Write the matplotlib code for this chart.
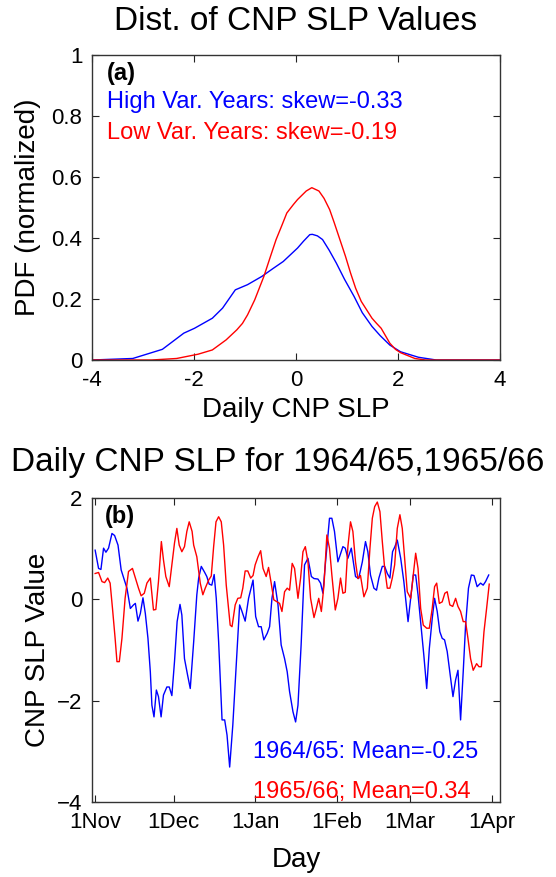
import numpy as np
import matplotlib
matplotlib.use("Agg")
import matplotlib.pyplot as plt

plt.rcParams['font.family'] = ['Liberation Sans', 'DejaVu Sans']

# PDF curves (panel a)
hi_x = [-4.0, -3.2, -2.62, -2.2, -1.99, -1.64, -1.44, -1.19, -0.95, -0.67, -0.45,
        -0.25, 0.03, 0.15, 0.27, 0.32, 0.42, 0.52, 0.65, 0.79, 0.95, 1.14, 1.3,
        1.49, 1.65, 1.84, 2.05, 2.4, 2.75, 4.0]
hi_y = [0.0, 0.005, 0.035, 0.088, 0.104, 0.137, 0.17, 0.23, 0.247, 0.274, 0.30,
        0.323, 0.367, 0.39, 0.411, 0.412, 0.407, 0.395, 0.36, 0.318, 0.265, 0.208,
        0.155, 0.11, 0.08, 0.049, 0.027, 0.009, 0.0, 0.0]
lo_x = [-4.0, -2.83, -2.34, -1.92, -1.64, -1.37, -1.16, -1.05, -0.95, -0.81, -0.63,
        -0.5, -0.39, -0.28, -0.18, -0.05, 0.03, 0.2, 0.31, 0.45, 0.55, 0.66, 0.75,
        0.86, 0.97, 1.07, 1.17, 1.28, 1.49, 1.58, 1.67, 1.84, 1.95, 2.05, 2.33,
        2.54, 4.0]
lo_y = [0.0, 0.0, 0.005, 0.019, 0.033, 0.066, 0.099, 0.12, 0.148, 0.197, 0.274,
        0.34, 0.395, 0.44, 0.482, 0.51, 0.526, 0.554, 0.565, 0.554, 0.53, 0.493,
        0.45, 0.395, 0.34, 0.285, 0.235, 0.192, 0.137, 0.12, 0.104, 0.055, 0.035,
        0.024, 0.005, 0.0, 0.0]

# daily series (panel b): day number (1 = 1 Nov) and value
b_day = [1.1, 2.4, 3.3, 4.3, 5.2, 6.2, 7.5, 8.5, 9.8, 11.0, 12.2, 13.2, 14.5, 15.7,
         16.4, 17.4, 18.3, 19.3, 20.2, 21.2, 22.1, 22.7, 23.5, 24.4, 25.2, 26.2,
         27.1, 28.4, 29.3, 30.3, 31.3, 32.3, 33.4, 34.1, 35.1, 36.3, 37.3, 38.6,
         39.8, 40.5, 41.5, 42.8, 43.6, 44.5, 45.5, 46.4, 47.2, 48.1, 49.4, 50.4,
         51.3, 52.3, 53.5, 54.8, 56.1, 57.0, 58.2, 59.5, 61.2, 62.2, 63.3, 64.3,
         65.3, 66.6, 67.5, 68.4, 69.4, 70.7, 71.9, 73.2, 74.2, 75.1, 76.4, 77.4,
         78.3, 79.5, 80.8, 82.1, 83.4, 84.4, 85.9, 86.9, 87.8, 88.7, 89.7, 90.3,
         91.2, 92.2, 93.5, 95.4, 96.3, 97.3, 98.6, 100.2, 101.4, 102.8, 104.0,
         104.9, 105.9, 107.2, 108.2, 109.1, 110.4, 111.3, 112.3, 113.3, 114.3,
         115.2, 116.1, 117.4, 118.6, 120.2, 121.2, 122.2, 123.1, 124.0, 125.2,
         126.2, 127.3, 128.3, 129.4, 130.3, 131.3, 132.3, 133.2, 134.1, 135.1,
         136.1, 137.3, 138.3, 139.2, 140.2, 141.2, 142.1, 143.2, 144.3, 145.3,
         146.5, 147.8, 148.8, 149.7, 150.9]
b_val = [0.97, 0.61, 0.59, 1.01, 0.93, 1.01, 1.30, 1.26, 1.07, 0.58, 0.38, 0.22,
         -0.18, -0.11, -0.08, -0.43, -0.28, 0.03, -0.28, -0.77, -1.43, -2.09, -2.32,
         -1.79, -1.92, -2.32, -1.89, -1.73, -1.73, -1.90, -1.23, -0.44, -0.10, -0.31,
         -1.17, -1.50, -1.76, -0.84, 0.09, 0.42, 0.65, 0.53, 0.45, 0.30, 0.28, 0.49,
         0.02, -0.84, -2.38, -2.38, -2.68, -3.31, -2.48, -1.30, -0.11, -0.24, -0.43,
         0.02, 0.38, -0.34, -0.54, -0.54, -0.80, -0.67, -0.54, 0.02, 0.35, -0.11,
         -0.90, -1.17, -1.43, -1.82, -2.22, -2.42, -2.09, -0.90, 0.68, 0.81, 0.45,
         0.41, 0.40, 0.32, 0.12, 0.68, 1.27, 1.60, 1.60, 1.34, 0.74, 1.04, 1.01,
         0.81, 1.01, 0.45, 0.41, 0.74, 1.14, 0.94, 0.48, 0.22, 0.18, 0.42, 0.65,
         0.65, 0.51, 0.42, 0.94, 1.04, 1.17, 0.81, 0.35, -0.44, 0.02, 0.48, 0.48,
         0.09, -0.57, -1.10, -1.76, -0.97, -0.38, 0.02, -0.24, -0.64, -0.77, -0.80,
         -1.03, -1.43, -1.92, -1.59, -1.40, -2.38, -1.43, -0.51, 0.22, 0.48, 0.47,
         0.25, 0.32, 0.28, 0.35, 0.48]

r_day = [1.1, 2.4, 3.7, 4.7, 5.9, 6.8, 7.7, 8.7, 9.4, 10.3, 11.3, 12.5, 13.8, 15.3,
         16.4, 17.6, 18.6, 19.8, 20.8, 22.1, 23.3, 24.2, 25.2, 26.3, 27.1, 28.0,
         29.3, 30.3, 31.3, 32.2, 33.1, 34.1, 35.1, 36.0, 36.9, 38.0, 38.6, 39.8,
         41.1, 42.1, 43.0, 44.3, 45.3, 46.2, 47.1, 48.1, 49.1, 50.0, 51.0, 52.5,
         53.2, 54.4, 55.4, 56.5, 57.3, 58.2, 59.2, 60.3, 61.2, 62.0, 63.1, 64.1,
         65.0, 66.2, 67.1, 68.1, 69.1, 70.4, 71.3, 72.2, 73.2, 74.2, 75.1, 76.1,
         77.0, 78.3, 79.3, 80.2, 81.1, 82.1, 83.1, 84.4, 85.3, 86.2, 87.2, 88.2,
         89.3, 90.3, 91.2, 92.5, 93.5, 94.5, 95.4, 96.3, 97.3, 98.3, 99.2, 100.2,
         101.1, 102.1, 103.4, 104.7, 105.7, 106.6, 107.5, 108.5, 109.5, 110.4,
         111.3, 112.3, 113.3, 114.2, 115.1, 116.1, 117.1, 118.0, 118.9, 119.9,
         121.2, 122.2, 123.1, 124.0, 125.0, 126.0, 127.3, 128.3, 129.4, 130.3,
         131.1, 132.1, 133.2, 134.2, 135.1, 136.1, 137.2, 138.3, 139.2, 140.2,
         141.2, 142.1, 143.0, 144.0, 145.0, 146.3, 147.2, 148.1, 149.1, 150.1, 151.1]
r_val = [0.51, 0.53, 0.35, 0.33, 0.42, 0.32, -0.18, -0.77, -1.23, -1.23, -0.77, 0.02,
         0.55, 0.61, 0.42, 0.22, 0.07, 0.12, 0.32, 0.42, -0.21, -0.20, 0.35, 1.14,
         0.78, 0.45, 0.25, 0.68, 1.11, 1.40, 1.07, 0.94, 1.04, 1.34, 1.53, 1.34,
         1.07, 0.84, 0.32, 0.09, 0.22, 0.38, 0.46, 1.04, 1.53, 1.63, 1.53, 1.07,
         0.28, -0.51, -0.54, -0.11, 0.02, 0.03, 0.22, 0.56, 0.56, 0.42, 0.47, 0.68,
         0.84, 0.96, 0.61, 0.45, 0.63, 0.32, -0.01, -0.05, -0.08, -0.24, 0.15, 0.22,
         0.18, 0.71, 0.61, 0.02, 0.42, 0.94, 1.04, 0.74, 0.02, -0.36, -0.18, 0.02,
         -0.24, 0.28, 1.27, 1.01, 0.48, -0.21, 0.02, 0.42, 0.12, 0.14, 1.04, 1.53,
         1.34, 0.74, 0.41, 0.47, 0.05, 0.22, 1.01, 1.60, 1.83, 1.92, 1.73, 1.14,
         0.61, 0.22, 0.22, 0.42, 0.68, 1.40, 1.67, 1.40, 0.81, 0.15, 0.02, 0.48,
         0.91, 0.61, -0.18, -0.51, -0.57, -0.57, -0.18, 0.25, 0.32, -0.08, -0.05,
         0.12, 0.15, -0.11, -0.14, 0.02, -0.14, -0.24, -0.44, -0.44, -0.77, -1.17,
         -1.40, -1.27, -1.33, -1.33, -0.64, -0.18, 0.30]

month_days = [1, 31, 62, 93, 121, 152]
month_labels = ['1Nov', '1Dec', '1Jan', '1Feb', '1Mar', '1Apr']

W, H = 556, 877
fig = plt.figure(figsize=(W / 100, H / 100), dpi=100)


def px_axes(l, t, r, b):
    return fig.add_axes([l / W, 1 - b / H, (r - l) / W, (b - t) / H])


def style(ax):
    ax.tick_params(direction='in', length=5, width=0.8, labelsize=16,
                   top=True, right=True, pad=7, colors='#222222', labelcolor='black')
    for s in ax.spines.values():
        s.set_linewidth(1.0)
        s.set_color('#333333')


# panel a
ax1 = px_axes(92, 55, 500, 360)
ax1.plot(hi_x, hi_y, color='b', lw=1.0)
ax1.plot(lo_x, lo_y, color='r', lw=1.0)
ax1.set_xlim(-4, 4)
ax1.set_ylim(0, 1)
ax1.set_xticks([-4, -2, 0, 2, 4])
ax1.set_xticklabels(['-4', '-2', '0', '2', '4'])
ax1.set_yticks([0, 0.2, 0.4, 0.6, 0.8, 1])
ax1.set_yticklabels(['0', '0.2', '0.4', '0.6', '0.8', '1'])
style(ax1)
ax1.text(-3.71, 0.94, '(a)', fontsize=17, fontweight='bold', va='center', ha='left')
ax1.text(-3.71, 0.846, 'High Var. Years: skew=-0.33', color='b', fontsize=17,
         va='center', ha='left')
ax1.text(-3.71, 0.744, 'Low Var. Years: skew=-0.19', color='r', fontsize=17,
         va='center', ha='left')

fig.text(296 / W, 1 - 22 / H, 'Dist. of CNP SLP Values', fontsize=24,
         ha='center', va='center')
fig.text(296 / W, 1 - 410 / H, 'Daily CNP SLP', fontsize=20, ha='center', va='center')
fig.text(28.5 / W, 1 - 207 / H, 'PDF (normalized)', fontsize=20, rotation=90,
         ha='center', va='center')

# panel b
ax2 = px_axes(92, 498, 500, 802)
ax2.plot(b_day, b_val, color='b', lw=1.0)
ax2.plot(r_day, r_val, color='r', lw=1.0)
ax2.set_xlim(-0.1, 155.2)
ax2.set_ylim(-4, 2)
ax2.set_xticks(month_days)
ax2.set_xticklabels(month_labels)
ax2.set_yticks([-4, -2, 0, 2])
style(ax2)
ax2.text(4.8, 1.64, '(b)', fontsize=17, fontweight='bold', va='center', ha='left')
ax2.text(61.1, -3.02, '1964/65: Mean=-0.25', color='b', fontsize=17,
         va='center', ha='left')
ax2.text(61.1, -3.81, '1965/66; Mean=0.34', color='r', fontsize=17,
         va='center', ha='left')

fig.text(278 / W, 1 - 463 / H, 'Daily CNP SLP for 1964/65,1965/66', fontsize=24,
         ha='center', va='center')
fig.text(296 / W, 1 - 860 / H, 'Day', fontsize=20, ha='center', va='center')
fig.text(38 / W, 1 - 650 / H, 'CNP SLP Value', fontsize=20, rotation=90,
         ha='center', va='center')

fig.savefig('out.png', dpi=100)
